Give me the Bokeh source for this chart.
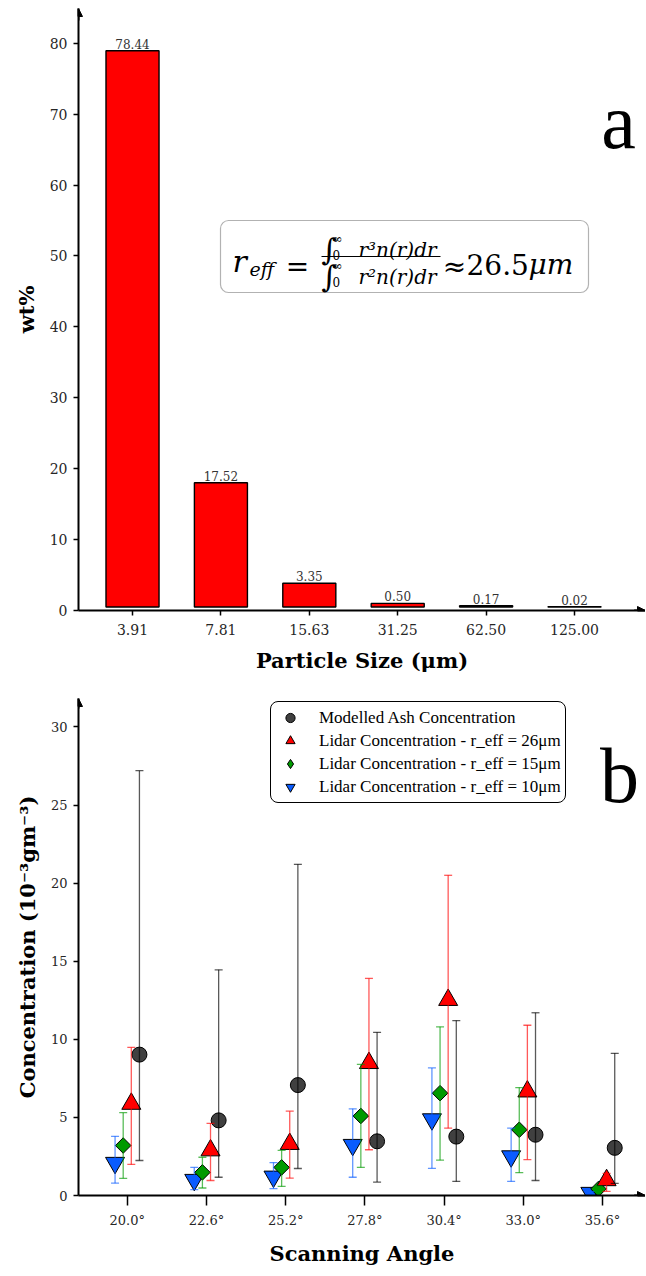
import numpy as np
import pandas as pd
from bokeh.plotting import figure
from bokeh.layouts import column
from bokeh.models import (ColumnDataSource, FixedTicker, Whisker, TeeHead, Arrow,
                          NormalHead, Label, BoxAnnotation, Legend, LegendItem,
                          PrintfTickFormatter, Range1d)
from bokeh.core.properties import value
from bokeh.embed import file_html
from bokeh.resources import INLINE

# ---------------- data: panel a ----------------
size_labels = ["3.91", "7.81", "15.63", "31.25", "62.50", "125.00"]
wt_percent = [78.44, 17.52, 3.35, 0.50, 0.17, 0.02]
wt_ticks = [0, 10, 20, 30, 40, 50, 60, 70, 80]

# ---------------- data: panel b ----------------
angles = [20.0, 22.6, 25.2, 27.8, 30.4, 33.0, 35.6]
modelled = [9.02, 4.81, 7.07, 3.47, 3.77, 3.89, 3.05]
modelled_lo = [2.24, 1.17, 1.73, 0.86, 0.90, 0.96, 0.78]
modelled_hi = [27.2, 14.45, 21.2, 10.45, 11.2, 11.7, 9.1]
lidar26 = [5.87, 2.89, 3.30, 8.48, 12.52, 6.66, 0.98]
lidar26_lo = [1.99, 0.96, 1.11, 2.93, 4.31, 2.30, 0.27]
lidar26_hi = [9.48, 4.62, 5.40, 13.9, 20.5, 10.9, 1.42]
lidar15 = [3.20, 1.48, 1.80, 5.09, 6.55, 4.21, 0.42]
lidar15_lo = [1.10, 0.48, 0.58, 1.80, 2.26, 1.46, 0.30]
lidar15_hi = [5.30, 2.45, 2.89, 8.39, 10.8, 6.91, 0.60]
lidar10 = [2.09, 1.00, 1.21, 3.24, 4.88, 2.51, 0.17]
lidar10_lo = [0.79, 0.38, 0.44, 1.17, 1.74, 0.90, 0.10]
lidar10_hi = [3.79, 1.80, 2.11, 5.55, 8.17, 4.31, 0.25]
conc_ticks = [0, 5, 10, 15, 20, 25, 30]

SERIF = "DejaVu Serif"
TIMES = "Liberation Serif"
TICK_COLOR = "#262626"


def style_axes(p, tick_size):
    for ax in (p.xaxis[0], p.yaxis[0]):
        ax.axis_line_width = 2
        ax.axis_line_color = "black"
        ax.major_tick_line_width = 1.5
        ax.major_tick_line_color = "black"
        ax.major_tick_in = 0
        ax.major_tick_out = 5
        ax.minor_tick_line_color = None
        ax.major_label_text_font = SERIF
        ax.major_label_text_font_size = tick_size
        ax.major_label_text_color = TICK_COLOR
        ax.axis_label_text_font = SERIF
        ax.axis_label_text_font_style = "bold"
        ax.axis_label_text_font_size = "21px"
        ax.axis_label_text_color = "black"
    p.xgrid.visible = False
    p.ygrid.visible = False
    p.outline_line_color = None
    p.background_fill_color = "white"
    p.border_fill_color = "white"


def add_axis_arrows(p, xr, yr):
    dy = (yr[1] - yr[0]) * 0.02
    dx = (xr[1] - xr[0]) * 0.02
    p.add_layout(Arrow(end=NormalHead(size=8, fill_color="black", line_color="black"),
                       x_start=xr[0], y_start=yr[1] - dy, x_end=xr[0], y_end=yr[1],
                       line_width=2, line_color="black"))
    p.add_layout(Arrow(end=NormalHead(size=8, fill_color="black", line_color="black"),
                       x_start=xr[1] - dx, y_start=yr[0], x_end=xr[1], y_end=yr[0],
                       line_width=2, line_color="black"))


# ======================= panel a =======================
XR_A = (-0.611, 5.803)
YR_A = (0.0, 84.9)
FA = dict(left=78, right=645, top=8, bottom=610)   # page pixels of the frame
BAR_BASE = 0.5

pa = figure(width=645, height=678, output_backend="svg", toolbar_location=None,
            x_range=Range1d(*XR_A), y_range=Range1d(*YR_A),
            min_border_left=78, min_border_right=0, min_border_top=8,
            min_border_bottom=68)
style_axes(pa, "14px")

idx = np.arange(len(size_labels))
src_a = ColumnDataSource(dict(
    x=idx,
    top=np.array(wt_percent) + BAR_BASE,
    label=[f"{v:.2f}" for v in wt_percent],
))
pa.vbar(x="x", top="top", bottom=BAR_BASE, width=0.6, fill_color="#ff0000",
        line_color="black", line_width=1.4, source=src_a)
pa.text(x="x", y="top", text="label", text_align="center", text_baseline="bottom",
        y_offset=-2, text_font=value(SERIF), text_font_size="12px",
        text_color="#333333", source=src_a)

pa.xaxis.ticker = FixedTicker(ticks=[int(i) for i in idx])
pa.xaxis.major_label_overrides = {int(i): s for i, s in zip(idx, size_labels)}
pa.yaxis.ticker = FixedTicker(ticks=wt_ticks)
pa.xaxis.major_label_standoff = 8
pa.yaxis.major_label_standoff = 6
pa.xaxis.axis_label = "Particle Size (μm)"
pa.yaxis.axis_label = "wt%"
pa.xaxis.axis_label_standoff = 10
pa.yaxis.axis_label_standoff = 8
add_axis_arrows(pa, XR_A, YR_A)


def pa_xy(px, py):
    x = XR_A[0] + (px - FA["left"]) / (FA["right"] - FA["left"]) * (XR_A[1] - XR_A[0])
    y = YR_A[0] + (FA["bottom"] - py) / (FA["bottom"] - FA["top"]) * (YR_A[1] - YR_A[0])
    return x, y


# formula box
bl, bt = pa_xy(220, 220)
br, bb = pa_xy(588, 292)
box_kw = dict(left=bl, right=br, top=bt, bottom=bb, fill_color="white", fill_alpha=1,
              line_color="black", line_width=1.2, level="annotation")
if "border_radius" in BoxAnnotation.properties():
    box_kw["border_radius"] = 8
pa.add_layout(BoxAnnotation(**box_kw))

formula = [
    # text, page x, page baseline y, size, style, align
    ("r", 232, 261, 30, "italic", "left"),
    ("eff", 249, 268, 19, "italic", "left"),
    ("=", 297, 266, 28, "normal", "center"),
    ("∫", 321, 249, 30, "normal", "left"),
    ("∞", 332, 238, 12, "normal", "left"),
    ("0", 332, 254, 12, "normal", "left"),
    ("r³n(r)dr", 358, 249, 20, "italic", "left"),
    ("∫", 321, 276, 30, "normal", "left"),
    ("∞", 332, 265, 12, "normal", "left"),
    ("0", 332, 281, 12, "normal", "left"),
    ("r²n(r)dr", 358, 276, 20, "italic", "left"),
    ("≈", 454, 266, 28, "normal", "center"),
    ("26.5", 466, 264, 28, "normal", "left"),
    ("μm", 528, 264, 28, "italic", "left"),
]
for t, px, py, fs, st, al in formula:
    x, y = pa_xy(px, py)
    pa.add_layout(Label(x=x, y=y, text=t, text_font=SERIF, text_font_size=f"{fs}px",
                        text_font_style=st, text_align=al, text_baseline="alphabetic",
                        text_color="black"))
fl, ft = pa_xy(321, 255.4)
fr, fb = pa_xy(440, 256.6)
pa.add_layout(BoxAnnotation(left=fl, right=fr, top=ft, bottom=fb, fill_color="black",
                            fill_alpha=1, line_color=None, level="annotation"))

ax_, ay_ = pa_xy(618, 121)
pa.add_layout(Label(x=ax_, y=ay_, text="a", text_font=TIMES, text_font_size="78px",
                    text_align="center", text_baseline="alphabetic", text_color="black"))

# ======================= panel b =======================
XR_B = (18.40, 37.01)
YR_B = (0.0, 31.82)
FB = dict(left=78, right=645, top=698, bottom=1204)

pb = figure(width=645, height=590, output_backend="svg", toolbar_location=None,
            x_range=Range1d(*XR_B), y_range=Range1d(*YR_B),
            min_border_left=78, min_border_right=0, min_border_top=20,
            min_border_bottom=64)
style_axes(pb, "13px")
pb.xaxis.major_tick_out = 10
pb.xaxis.ticker = FixedTicker(ticks=angles)
pb.xaxis.formatter = PrintfTickFormatter(format="%.1f°")
pb.yaxis.ticker = FixedTicker(ticks=conc_ticks)
pb.xaxis.major_label_standoff = 7
pb.yaxis.major_label_standoff = 6
pb.xaxis.axis_label = "Scanning Angle"
pb.yaxis.axis_label = "Concentration (10⁻³gm⁻³)"
pb.xaxis.axis_label_standoff = 10
pb.yaxis.axis_label_standoff = 8
add_axis_arrows(pb, XR_B, YR_B)

series = [
    # key, values, lo, hi, dodge, marker, legend marker, colour, size, angle
    ("r10", lidar10, lidar10_lo, lidar10_hi, -0.40, "inverted_triangle", "inverted_triangle", "#0a5cff", 19, 0.0),
    ("r15", lidar15, lidar15_lo, lidar15_hi, -0.133, "square", "diamond", "#009a00", 11, np.pi / 4),
    ("r26", lidar26, lidar26_lo, lidar26_hi, 0.133, "triangle", "triangle", "#ff0000", 19, 0.0),
    ("mod", modelled, modelled_lo, modelled_hi, 0.40, "circle", "circle", "#404040", 15, 0.0),
]
legend_renderers = {}
for key, vals, lo, hi, dx, mk, lmk, col, sz, ang in series:
    src = ColumnDataSource(dict(x=np.array(angles) + dx, y=vals, lo=lo, hi=hi))
    ecol = "black" if key == "mod" else col
    w = Whisker(source=src, base="x", upper="hi", lower="lo", dimension="height",
                line_color=ecol, line_alpha=0.65, line_width=1.3, level="glyph",
                upper_head=TeeHead(size=8, line_color=ecol, line_alpha=0.65, line_width=1.3),
                lower_head=TeeHead(size=8, line_color=ecol, line_alpha=0.65, line_width=1.3))
    pb.add_layout(w)
    r = pb.scatter(x="x", y="y", source=src, marker=mk, size=sz, angle=ang,
                   fill_color=col, line_color="black", line_width=1)
    if lmk != mk:
        # legend-only glyph (a NaN point, never shown in the plot) so the
        # legend shows the diamond shape
        r = pb.scatter(x=[np.nan], y=[np.nan], marker=lmk, size=sz, fill_color=col,
                       line_color="black", line_width=1)
    legend_renderers[key] = r

items = [
    LegendItem(label="Modelled Ash Concentration", renderers=[legend_renderers["mod"]]),
    LegendItem(label="Lidar Concentration - r_eff = 26μm", renderers=[legend_renderers["r26"]]),
    LegendItem(label="Lidar Concentration - r_eff = 15μm", renderers=[legend_renderers["r15"]]),
    LegendItem(label="Lidar Concentration - r_eff = 10μm", renderers=[legend_renderers["r10"]]),
]
leg_kw = dict(items=items, location=(192, 392), label_text_font=TIMES,
              label_text_font_size="17px", label_text_color="black",
              glyph_width=30, glyph_height=23, label_height=23, spacing=0,
              padding=4, margin=0, label_standoff=14,
              border_line_color="black", border_line_width=1.2, border_line_alpha=1,
              background_fill_color="white", background_fill_alpha=1)
if "border_radius" in Legend.properties():
    leg_kw["border_radius"] = 8
pb.add_layout(Legend(**leg_kw))


def pb_xy(px, py):
    x = XR_B[0] + (px - FB["left"]) / (FB["right"] - FB["left"]) * (XR_B[1] - XR_B[0])
    y = YR_B[0] + (FB["bottom"] - py) / (FB["bottom"] - FB["top"]) * (YR_B[1] - YR_B[0])
    return x, y


bx_, by_ = pb_xy(619, 776)
pb.add_layout(Label(x=bx_, y=by_, text="b", text_font=TIMES, text_font_size="78px",
                    text_align="center", text_baseline="alphabetic", text_color="black"))

layout = column(pa, pb, spacing=0)
open("out.html", "w").write(file_html(layout, INLINE))
